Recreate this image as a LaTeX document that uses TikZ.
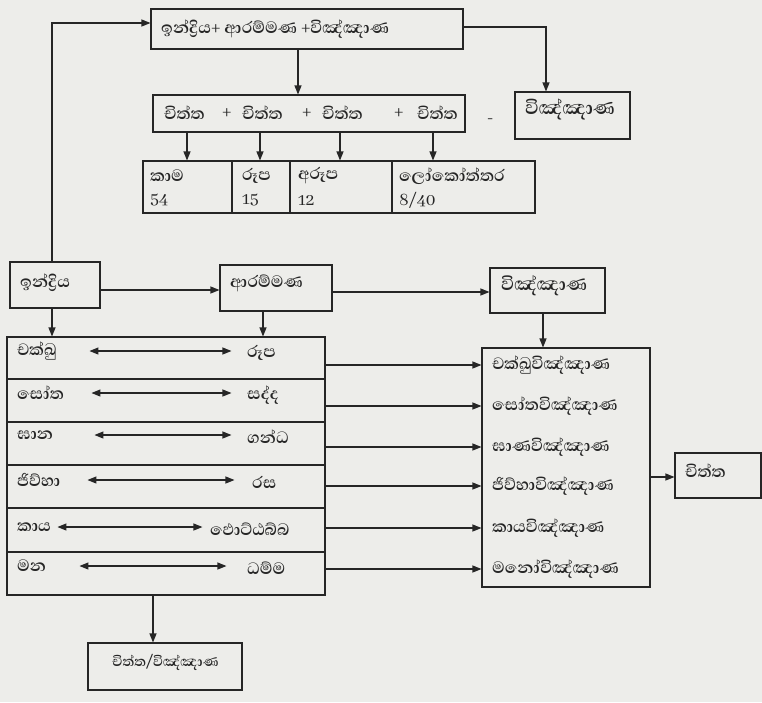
\documentclass[tikz,border=0pt]{standalone}
\usepackage{fontspec}
\newfontfamily\sinhalafnt[Script=Sinhala]{Abhaya Libre}
\usetikzlibrary{arrows.meta,fit}
\definecolor{paper}{RGB}{237,237,234}
\definecolor{ink}{RGB}{38,38,38}
\tikzset{
  box/.style={draw=ink, line width=1.1pt, inner sep=0pt, fit={#1}},
  txt/.style={font=\sinhalafnt\bfseries\fontsize{21}{23}\selectfont, text=ink, inner sep=2pt, anchor=west},
  num/.style={txt, font=\sinhalafnt\fontsize{19}{21}\selectfont},
  arr/.style={draw=ink, line width=1.1pt, -{Triangle[length=9pt,width=7pt]}},
  dbl/.style={draw=ink, line width=1.1pt, {Triangle[length=9pt,width=7pt]}-{Triangle[length=9pt,width=7pt]}},
}
\begin{document}
\begin{tikzpicture}[x=1pt,y=-1pt]
\fill[paper] (0,0) rectangle (762,702);
\useasboundingbox (0,0) rectangle (762,702);

% top
\node[box={(151,9) (463,49)}] (T) {};
\node[txt] (Tt) at (159,29) {ඉන්ද්^^^^200dරිය+ ආරම්මණ +විඤ්ඤාණ};
\node[box={(153,95) (465,132)}] (C) {};
\node[txt] (c1) at (162,113) {චිත්ත};
\node[txt] (p1) at (220,113) {+};
\node[txt] (c2) at (240,113) {චිත්ත};
\node[txt] (p2) at (300,113) {+};
\node[txt] (c3) at (320,113) {චිත්ත};
\node[txt] (p3) at (392,113) {+};
\node[txt] (c4) at (415,113) {චිත්ත};
\node[txt] (dash) at (485,121) {-};
\node[box={(515,92) (630,139)}] (V1) {};
\node[txt, font=\sinhalafnt\bfseries\fontsize{24}{26}\selectfont] (V1t) at (523,110) {විඤ්ඤාණ};

% categories
\node[box={(143,161) (232,213)}] (k1) {};
\node[box={(232,161) (290,213)}] (k2) {};
\node[box={(290,161) (392,213)}] (k3) {};
\node[box={(392,161) (535,213)}] (k4) {};
\node[txt] (k1a) at (148,176) {කාම};
\node[num] (k1b) at (148,200) {54};
\node[txt] (k2a) at (240,176) {රූප};
\node[num] (k2b) at (240,200) {15};
\node[txt] (k3a) at (296,176) {අරූප};
\node[num] (k3b) at (296,200) {12};
\node[txt] (k4a) at (397,176) {ලෝකෝත්තර};
\node[num] (k4b) at (397,200) {8/40};

% middle
\node[box={(10,262) (100,308)}] (ind) {};
\node[txt] (indt) at (18,283) {ඉන්ද්^^^^200dරිය};
\node[box={(220,265) (332,311)}] (A) {};
\node[txt] (At) at (228,283) {ආරම්මණ};
\node[box={(490,268) (605,313)}] (V2) {};
\node[txt, font=\sinhalafnt\bfseries\fontsize{23}{25}\selectfont] (V2t) at (499,286) {විඤ්ඤාණ};

% left table
\node[box={(7,337) (325,379)}] (l1) {};
\node[box={(7,379) (325,422)}] (l2) {};
\node[box={(7,422) (325,465)}] (l3) {};
\node[box={(7,465) (325,508)}] (l4) {};
\node[box={(7,508) (325,552)}] (l5) {};
\node[box={(7,552) (325,595)}] (l6) {};
\node[txt] (a1) at (15,351) {චක්ඛු};
\node[txt] (b1) at (245,353) {රූප};
\node[txt] (a2) at (15,393) {සෝත};
\node[txt] (b2) at (245,395) {සද්ද};
\node[txt] (a3) at (15,435) {ඝාන};
\node[txt] (b3) at (245,437) {ගන්ධ};
\node[txt] (a4) at (15,480) {ජිව්හා};
\node[txt] (b4) at (250,482) {රස};
\node[txt] (a5) at (15,527) {කාය};
\node[txt] (b5) at (208,529) {ඵොට්ඨබ්බ};
\node[txt] (a6) at (15,566) {මන};
\node[txt] (b6) at (245,568) {ධම්ම};

% right box
\node[box={(482,348) (650,587)}] (R) {};
\node[txt] (r1) at (490,365) {චක්ඛුවිඤ්ඤාණ};
\node[txt] (r2) at (490,406) {සෝතවිඤ්ඤාණ};
\node[txt] (r3) at (490,447) {ඝාණවිඤ්ඤාණ};
\node[txt] (r4) at (490,486) {ජිව්හාවිඤ්ඤාණ};
\node[txt] (r5) at (490,528) {කායවිඤ්ඤාණ};
\node[txt] (r6) at (490,569) {මනෝවිඤ්ඤාණ};
\node[box={(675,453) (761,498)}] (C2) {};
\node[txt] (C2t) at (683,471) {චිත්ත};

% bottom
\node[box={(88,643) (242,690)}] (B) {};
\node[txt, font=\sinhalafnt\bfseries\fontsize{17.5}{19}\selectfont] (Bt) at (110,662) {චිත්ත/විඤ්ඤාණ};

% connectors
\draw[arr] ([xshift=-3pt]ind.north) |- ([yshift=6pt]T.west);
\draw[arr] ([yshift=2pt]T.east) -| ([xshift=-26.5pt]V1.north);
\draw[arr] ([xshift=-9pt]T.south) -- ([xshift=-9pt]T.south |- C.north);
\draw[arr] (C.south -| 187,0) -- (k1.north -| 187,0);
\draw[arr] (C.south -| 260,0) -- (k2.north -| 260,0);
\draw[arr] (C.south -| 340,0) -- (k3.north -| 340,0);
\draw[arr] (C.south -| 433,0) -- (k4.north -| 433,0);

\draw[arr] ([yshift=-5pt]ind.east) -- ([yshift=-5pt]ind.east -| A.west);
\draw[arr] ([yshift=-4pt]A.east) -- ([yshift=-4pt]A.east -| V2.west);
\draw[arr] ([xshift=-4.5pt]V2.south) -- ([xshift=-4.5pt]V2.south |- R.north);
\draw[arr] ([xshift=-3pt]ind.south) -- ([xshift=-3pt]ind.south |- l1.north);
\draw[arr] ([xshift=-13pt]A.south) -- ([xshift=-13pt]A.south |- l1.north);

\draw[dbl] ([xshift=83pt]l1.west |- a1.east) -- ([xshift=225pt]l1.west |- a1.east);
\draw[dbl] ([xshift=85pt]l2.west |- a2.east) -- ([xshift=225pt]l2.west |- a2.east);
\draw[dbl] ([xshift=88pt]l3.west |- a3.east) -- ([xshift=225pt]l3.west |- a3.east);
\draw[dbl] ([xshift=81pt]l4.west |- a4.east) -- ([xshift=228pt]l4.west |- a4.east);
\draw[dbl] ([xshift=51pt]l5.west |- a5.east) -- ([xshift=196pt]l5.west |- a5.east);
\draw[dbl] ([xshift=73pt]l6.west |- a6.east) -- ([xshift=220pt]l6.west |- a6.east);

\draw[arr] (l1.east |- r1) -- (R.west |- r1);
\draw[arr] (l2.east |- r2) -- (R.west |- r2);
\draw[arr] (l3.east |- r3) -- (R.west |- r3);
\draw[arr] (l4.east |- r4) -- (R.west |- r4);
\draw[arr] (l5.east |- r5) -- (R.west |- r5);
\draw[arr] (l6.east |- r6) -- (R.west |- r6);

\draw[arr] ([yshift=-9.5pt]R.east) -- ([yshift=-9.5pt]R.east -| C2.west);
\draw[arr] ([xshift=-12pt]B.north |- l6.south) -- ([xshift=-12pt]B.north);
\end{tikzpicture}
\end{document}
